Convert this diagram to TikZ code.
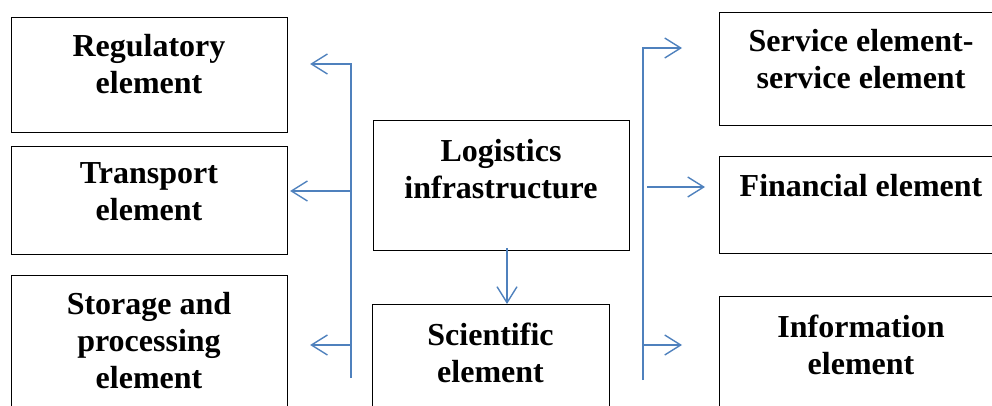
\documentclass[tikz,border=0pt]{standalone}
\usepackage{fontspec}
\setmainfont{Liberation Serif}
\usetikzlibrary{arrows.meta}
\definecolor{lineblue}{RGB}{79,129,189}
\begin{document}
\begin{tikzpicture}[x=1pt,y=-1pt,
  box/.style={draw=black, line width=1.1pt, rectangle, anchor=north west, inner sep=0pt},
  lbl/.style={font=\fontsize{32}{37}\selectfont\bfseries, align=center, anchor=north, inner sep=0pt},
  conn/.style={draw=lineblue, line width=1.4pt},
  arr/.style={conn, -{Straight Barb[length=16pt,width=20pt]}}]
\useasboundingbox (0,0) rectangle (992,406);
\clip (0,0) rectangle (992,406);
% boxes
\node[box, minimum width=276pt, minimum height=115pt] (reg) at (11,17) {};
\node[box, minimum width=276pt, minimum height=108pt] (tra) at (11,146) {};
\node[box, minimum width=276pt, minimum height=150pt] (sto) at (11,275) {};
\node[box, minimum width=256pt, minimum height=130pt] (log) at (373,120) {};
\node[box, minimum width=237pt, minimum height=130pt] (sci) at (372,304) {};
\node[box, minimum width=284pt, minimum height=113pt] (ser) at (719,12) {};
\node[box, minimum width=284pt, minimum height=97pt] (fin) at (719,156) {};
\node[box, minimum width=284pt, minimum height=130pt] (inf) at (719,296) {};
% labels
\node[lbl] (regt) at (149,34.5) {Regulatory\\element};
\node[lbl] (trat) at (149,162.5) {Transport\\element};
\node[lbl] (stot) at (149,292.5) {Storage and\\processing\\element};
\node[lbl] (logt) at (501,139.5) {Logistics\\infrastructure};
\node[lbl] (scit) at (490.5,322.5) {Scientific\\element};
\node[lbl] (sert) at (861,29.5) {Service element-\\service element};
\node[lbl] (fint) at (861,174.5) {Financial element};
\node[lbl] (inft) at (861,314.5) {Information\\element};
% left trunk
\coordinate (lt) at (351,64);
\coordinate (lb) at (351,378);
\coordinate (lm) at (351,191);
\coordinate (ls) at (351,345);
\draw[arr] (lb) -- (lt) -- ([xshift=22pt]reg.east |- lt);
\draw[arr, shorten >=2pt] (lm) -- (lm -| tra.east);
\draw[arr] (ls) -- ([xshift=22pt]sto.east |- ls);
% center
\coordinate (ct) at (507,248);
\draw[arr] (ct) -- (ct |- sci.north);
% right trunk
\coordinate (rt) at (643,48);
\coordinate (rb) at (643,380);
\coordinate (rm) at (647,187);
\coordinate (ri) at (643,345);
\draw[arr] (rb) -- (rt) -- ([xshift=-37pt]ser.west |- rt);
\draw[arr] (rm) -- ([xshift=-14pt]fin.west |- rm);
\draw[arr] (ri) -- ([xshift=-37pt]inf.west |- ri);
\end{tikzpicture}
\end{document}
